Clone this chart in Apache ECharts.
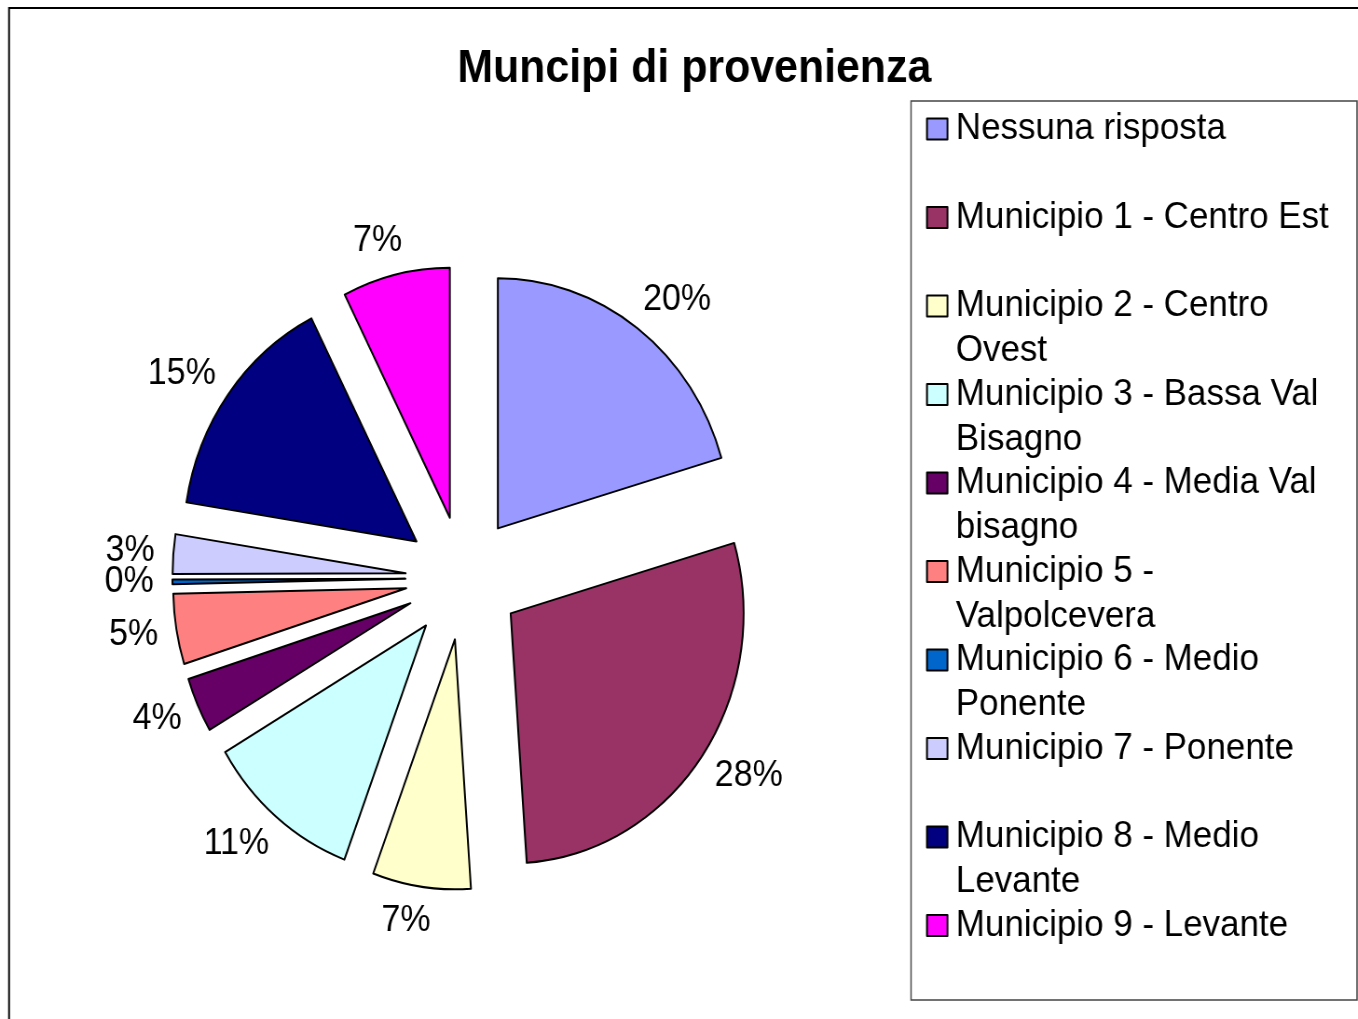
<!DOCTYPE html>
<html>
<head>
<meta charset="utf-8">
<title>Muncipi di provenienza</title>
<script src="https://cdn.jsdelivr.net/npm/echarts@6/dist/echarts.min.js"></script>
<style>
  html, body { margin: 0; padding: 0; background: #fff; overflow: hidden; }
  /* the original picture is squeezed sideways: draw wider, then scale down */
  #chart { width: 1457px; height: 1019px; transform: scaleX(0.932); transform-origin: 0 0; }
</style>
</head>
<body>
<div id="chart"></div>
<script>
// legend text, split where the original wraps it
const legendLines = [
  ['Nessuna risposta'],
  ['Municipio 1 - Centro Est'],
  ['Municipio 2 - Centro', 'Ovest'],
  ['Municipio 3 - Bassa Val', 'Bisagno'],
  ['Municipio 4 - Media Val', 'bisagno'],
  ['Municipio 5 -', 'Valpolcevera'],
  ['Municipio 6 - Medio', 'Ponente'],
  ['Municipio 7 - Ponente'],
  ['Municipio 8 - Medio', 'Levante'],
  ['Municipio 9 - Levante']
];
const categories = legendLines.map(l => l.join(' '));
// shares in % (labels show them rounded)
const values = [20.45, 28.45, 6.8, 10.85, 3.55, 4.55, 0.3, 2.55, 15.05, 7.45];
const colors = ['#9999ff', '#993366', '#ffffcc', '#ccffff', '#660066',
                '#ff8080', '#0066cc', '#ccccff', '#000080', '#ff00ff'];

const chart = echarts.init(document.getElementById('chart'));

const option = {
  animation: false,
  color: colors,
  title: {
    text: 'Muncipi di provenienza',
    left: 740,
    top: 41.5,
    textAlign: 'center',
    textStyle: {
      fontFamily: 'Liberation Sans',
      fontSize: 46,
      fontWeight: 'bold',
      color: '#000'
    }
  },
  legend: {
    orient: 'vertical',
    left: 993.6,
    top: 61.5,
    padding: 0,
    itemGap: -46.5,
    itemWidth: 22,
    itemHeight: 21,
    icon: 'rect',
    itemStyle: { borderColor: '#000', borderWidth: 2 },
    // three lines per entry (blank first) so the icon sits on the first text line
    formatter: name => {
      const l = legendLines[categories.indexOf(name)];
      return [' ', l[0], l[1] || ' '].join('\n');
    },
    textStyle: {
      fontFamily: 'Liberation Sans',
      fontSize: 37.5,
      color: '#000',
      lineHeight: 45,
      padding: [0, 0, 0, 4],
      backgroundColor: 'rgba(0,0,0,0)'
    },
    data: categories
  },
  graphic: [
    {
      type: 'rect',
      shape: { x: 9.7, y: 8, width: 1600, height: 1200 },
      style: { fill: 'none', stroke: '#000', lineWidth: 2 }
    },
    {
      type: 'rect',
      shape: { x: 977.5, y: 101, width: 478.5, height: 899 },
      style: { fill: 'none', stroke: '#444', lineWidth: 1.5 }
    }
  ],
  series: [
    {
      type: 'pie',
      center: [497, 578],
      radius: 250,
      startAngle: 90,
      clockwise: true,
      avoidLabelOverlap: false,
      selectedMode: 'multiple',
      selectedOffset: 62,
      itemStyle: { borderColor: '#000', borderWidth: 2 },
      label: {
        position: 'outside',
        formatter: p => Math.round(p.percent) + '%',
        fontFamily: 'Liberation Sans',
        fontSize: 36.5,
        color: '#000',
        distanceToLabelLine: -15
      },
      labelLine: { show: false, length: 35, length2: 0 },
      labelLayout: { hideOverlap: false },
      emphasis: { disabled: true },
      data: categories.map((name, i) => ({ name: name, value: values[i], selected: true }))
    }
  ]
};

chart.setOption(option);
</script>
</body>
</html>
